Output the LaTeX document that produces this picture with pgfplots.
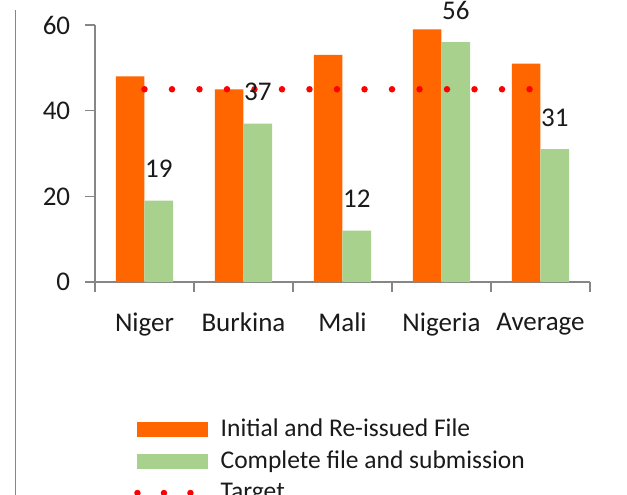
\documentclass[border=0pt]{standalone}
\usepackage{pgfplots}
\pgfplotsset{compat=1.18}
\usepackage{fontspec}
\setmainfont{Carlito}
\definecolor{barorange}{RGB}{255,102,0}
\definecolor{bargreen}{RGB}{169,209,142}
\definecolor{axisgray}{RGB}{134,134,134}
\definecolor{txt}{RGB}{26,26,26}
\begin{document}
\fontsize{26}{31}\selectfont
\begin{tikzpicture}
\path[use as bounding box] (-95pt,-213pt) rectangle (532pt,282pt);
\draw[axisgray, line width=1.5pt] (-79.5pt,272pt) -- (-79.5pt,-220pt);
\begin{axis}[
  at={(0pt,0pt)}, anchor=south west,
  scale only axis, width=495pt, height=257pt,
  xmin=-0.5, xmax=4.5, ymin=0, ymax=60,
  axis lines*=left,
  tick align=outside,
  xtick={-0.5,0.5,1.5,2.5,3.5,4.5},
  x tick label as interval,
  xticklabels={Niger,Burkina,Mali,Nigeria,Average},
  ytick={0,20,40,60},
  major tick length=10pt,
  tick style={axisgray, line width=1.5pt},
  axis line style={axisgray, line width=1.5pt},
  /pgf/number format/assume math mode=true,
  tick label style={text=txt, font=\fontsize{27}{32}\selectfont},
  yticklabel style={xshift=-6pt},
  xticklabel style={yshift=-12pt},
  clip=false,
  legend style={at={(axis description cs:0.0788,-0.531)}, anchor=north west,
    draw=none, fill=none, inner sep=0pt, row sep=10.5pt,
    nodes={inner sep=0pt, text=txt}, font=\fontsize{25.5}{30}\selectfont},
  legend cell align=left,
]
\addplot[ybar, bar width=0.29, bar shift=-0.145, fill=barorange, draw=none,
  legend image code/.code={\fill[barorange] (0pt,-7.5pt) rectangle (71pt,7.5pt); \path (80pt,0pt);}]
  coordinates {(0,48) (1,45) (2,53) (3,59) (4,51)};
\addlegendentry{Initial and Re-issued File}
\addplot[ybar, bar width=0.29, bar shift=0.145, fill=bargreen, draw=none,
  nodes near coords,
  every node near coord/.append style={text=txt, xshift=14.35pt, yshift=14pt, font=\fontsize{27}{32}\selectfont},
  legend image code/.code={\fill[bargreen] (0pt,-7.5pt) rectangle (71pt,7.5pt); \path (80pt,0pt);}]
  coordinates {(0,19) (1,37) (2,12) (3,56) (4,31)};
\addlegendentry{Complete file and submission}
\addplot[red, line width=6.5pt, line cap=round, dash pattern=on 0pt off 27.5pt, mark=none,
  legend image code/.code={\draw[red, line width=6.5pt, line cap=round, dash pattern=on 0pt off 26.5pt] (0pt,0pt) -- (71pt,0pt); \path (80pt,0pt);}]
  coordinates {(0,45) (4,45)};
\addlegendentry{Target}
\end{axis}
\end{tikzpicture}
\end{document}
